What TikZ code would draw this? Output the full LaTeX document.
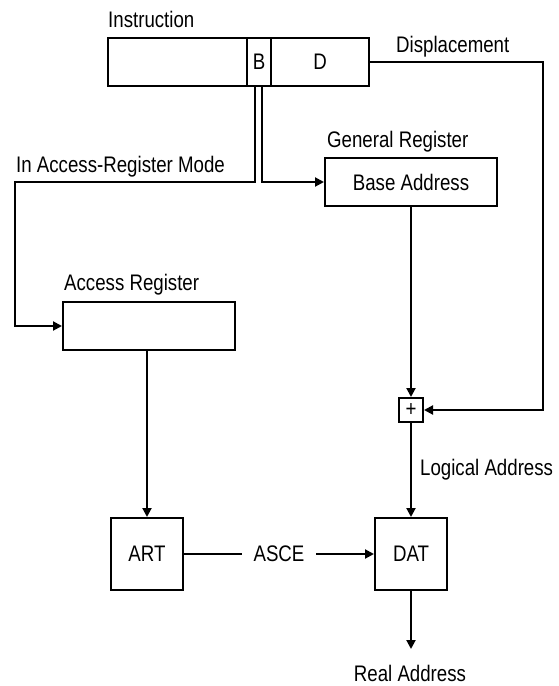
\documentclass[tikz,border=0pt]{standalone}
\usepackage{fontspec}
\setmainfont{Liberation Sans}[FakeStretch=0.83]
\usetikzlibrary{arrows.meta}
\begin{document}
\begin{tikzpicture}[x=1pt,y=-1pt,
  every node/.style={font=\fontsize{22.5}{25}\selectfont},
  cell/.style={draw,line width=2pt,inner sep=0pt,minimum height=48pt},
  box/.style={draw,line width=2pt,inner sep=0pt},
  lbl/.style={inner sep=0pt},
  conn/.style={line width=2pt},
  arr/.style={conn,-{Triangle[length=9pt,width=9pt]}}]
\useasboundingbox (0,0) rectangle (559,686);
% instruction fields
\node[cell,minimum width=139pt] (instr) at (177.5,62) {};
\node[cell,minimum width=24pt] (bcell) at (259,62) {B};
\node[cell,minimum width=98pt] (dcell) at (320,62) {D};
\node[lbl,anchor=base west] (instrlbl) at (108,27) {Instruction};
\node[lbl,anchor=base west] (displbl) at (396,52) {Displacement};
% general register
\node[box,minimum width=172pt,minimum height=48pt] (gr) at (411,182) {Base Address};
\node[lbl,anchor=base west] (grlbl) at (327,147) {General Register};
% access register
\node[box,minimum width=172pt,minimum height=48pt] (ar) at (149,326) {};
\node[lbl,anchor=base west] (arlbl) at (64,290) {Access Register};
\node[lbl,anchor=base west] (modelbl) at (16,172) {In Access-Register Mode};
% adder
\node[box,minimum width=24pt,minimum height=24pt] (plus) at (411,410) {+};
\node[lbl,anchor=base west] (loglbl) at (420,475) {Logical Address};
% ART and DAT
\node[box,minimum width=72pt,minimum height=72pt] (art) at (147,554) {ART};
\node[box,minimum width=72pt,minimum height=72pt] (dat) at (411,554) {DAT};
\coordinate (raend) at (411,649);
\node[lbl,anchor=base] (ralbl) at (410,681) {Real Address};
% connectors
\coordinate (bl) at (255,86);
\coordinate (br) at (262,86);
\draw[arr] (bl) -- (255,182) -- (15,182) -- (15,326) -- (ar.west);
\draw[arr] (br) -- (262,182) -- (gr.west);
\draw[arr] (dcell.east) -- (543,62) -- (543,410) -- (plus.east);
\draw[arr] (gr.south) -- (plus.north);
\draw[arr] (plus.south) -- (dat.north);
\draw[arr] (ar.south -| art.north) -- (art.north);
\draw[arr] (art.east) -- node[fill=white,inner xsep=12pt,inner ysep=2pt] {ASCE} (dat.west);
\draw[arr] (dat.south) -- (raend);
\end{tikzpicture}
\end{document}
